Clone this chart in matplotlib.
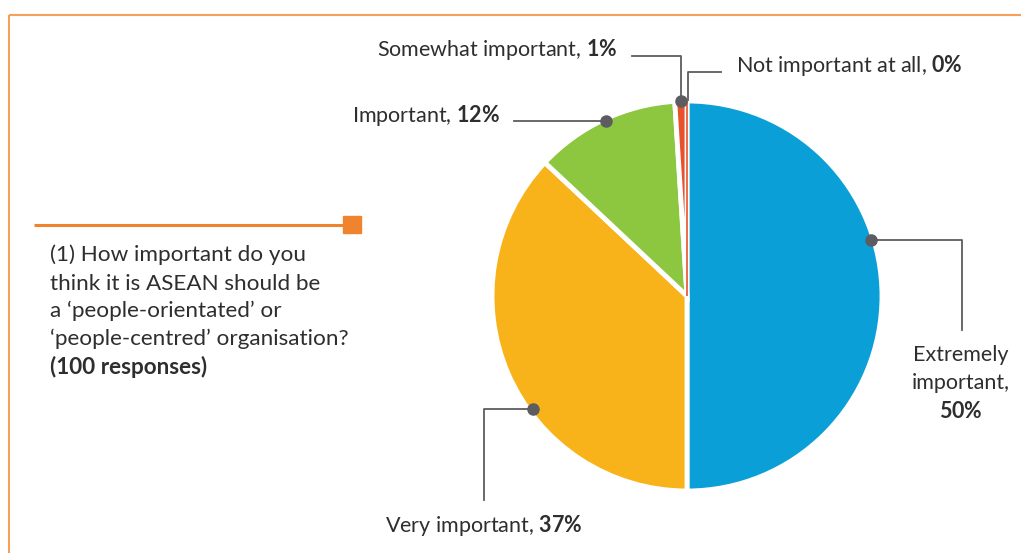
import matplotlib
matplotlib.use("Agg")
import matplotlib.pyplot as plt

plt.rcParams['font.family'] = ['Lato', 'DejaVu Sans']
plt.rcParams['mathtext.fontset'] = 'custom'
plt.rcParams['mathtext.rm'] = 'Lato'
plt.rcParams['mathtext.bf'] = 'Lato:bold'

# ---- data ----
categories = ["Extremely important", "Very important", "Important",
              "Somewhat important", "Not important at all"]
values = [50, 37, 12, 1, 0]
colors = ["#0aa0d7", "#f8b31a", "#8dc63f", "#e9512b", "#e9512b"]
question_lines = ["(1) How important do you", "think it is ASEAN should be",
                  "a \u2018people-orientated\u2019 or",
                  "\u2018people-centred\u2019 organisation?"]
question_bold = "(100 responses)"

W, H = 1021, 553
fig = plt.figure(figsize=(W / 100, H / 100), dpi=100)
ax = fig.add_axes([0, 0, 1, 1])
ax.set_xlim(0, W)
ax.set_ylim(0, H)
ax.set_aspect('equal')
ax.axis('off')

def Y(y):
    return H - y

# border
border = "#f6a15a"
ax.plot([8.5, W], [Y(14.5), Y(14.5)], color=border, lw=1.5, solid_capstyle='butt')
ax.plot([8.5, 8.5], [Y(14.5), 0], color=border, lw=1.5, solid_capstyle='butt')

# pie
cx, cy, R = 687, Y(296), 195
wedges, _ = ax.pie(values, colors=colors, startangle=90, counterclock=False,
                   center=(cx, cy), radius=R, frame=True,
                   wedgeprops=dict(edgecolor='white', linewidth=3.5))
ax.set_xlim(0, W)
ax.set_ylim(0, H)
ax.axis('off')
# zero slice shown as thin red line
wedges[4].set_edgecolor(colors[4])
wedges[4].set_linewidth(1.2)
wedges[4].set_zorder(5)

lead = "#5d5d61"
txt = "#2e2e2e"
fs = 15.5
fq = 16.2

def leader(points, dot):
    xs = [p[0] for p in points]
    ys = [Y(p[1]) for p in points]
    ax.plot(xs, ys, color=lead, lw=1.3, zorder=6)
    ax.plot([dot[0]], [Y(dot[1])], 'o', color=lead, ms=8, zorder=7)

def lab(s, pct, x, y, ha):
    ax.text(x, Y(y), s + r"$\mathbf{" + str(pct) + r"\%}$", ha=ha, va='center',
            fontsize=fs, color=txt)

# Extremely important
leader([(871, 240), (962, 240), (962, 330)], (871, 240))
ax.text(961, Y(355), "Extremely", ha='center', va='center', fontsize=fs, color=txt)
ax.text(961, Y(383), "important,", ha='center', va='center', fontsize=fs, color=txt)
ax.text(961, Y(411), r"$\mathbf{" + str(values[0]) + r"\%}$", ha='center', va='center',
        fontsize=fs, color=txt)

# Very important
leader([(533, 409), (484, 409), (484, 500)], (533, 409))
lab("Very important, ", values[1], 484, 525, 'center')

# Important
leader([(606, 121), (514, 121)], (606, 121))
lab("Important, ", values[2], 500, 116, 'right')

# Somewhat important
leader([(681, 101), (681, 56), (632, 56)], (681, 101))
lab("Somewhat important, ", values[3], 617, 50, 'right')

# Not important at all
ax.plot([688, 688, 721], [Y(100), Y(72), Y(72)], color=lead, lw=1.3, zorder=6)
lab("Not important at all, ", values[4], 736, 66, 'left')

# question block
orange = "#f0832e"
ax.plot([34, 350], [Y(224.5), Y(224.5)], color=orange, lw=2.2, solid_capstyle='butt')
ax.add_patch(plt.Rectangle((343, Y(233)), 18, 17, color=orange, zorder=5))
ys = [255, 284, 311, 339]
for line, y in zip(question_lines, ys):
    ax.text(50, Y(y), line, ha='left', va='center', fontsize=fq, color=txt)
ax.text(50, Y(367), question_bold, ha='left', va='center', fontsize=fq,
        color=txt, fontweight='bold')

fig.savefig("out.png", dpi=100)
